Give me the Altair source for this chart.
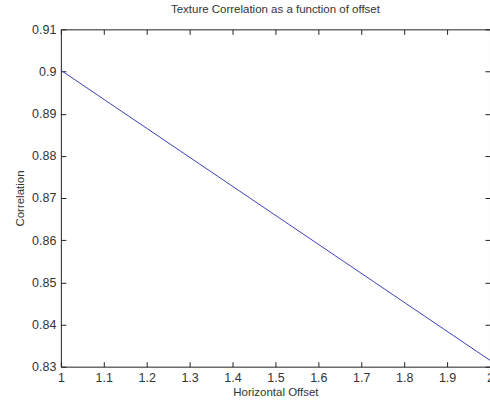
import altair as alt
import pandas as pd

offsets = [1.0, 2.0]
correlation = [0.9003, 0.8315]
x_ticks = [1.0, 1.1, 1.2, 1.3, 1.4, 1.5, 1.6, 1.7, 1.8, 1.9, 2.0]
y_ticks = [0.83, 0.84, 0.85, 0.86, 0.87, 0.88, 0.89, 0.90, 0.91]

df = pd.DataFrame({"offset": offsets, "corr": correlation})

FONT = "Liberation Sans"
TXT = "#333333"
TICK = 5

xs = alt.Scale(domain=[1, 2], nice=False, zero=False)
ys = alt.Scale(domain=[0.83, 0.91], nice=False, zero=False)

base = alt.Chart(df)

lab = dict(labelFont=FONT, labelFontSize=12.5, labelColor=TXT,
           titleFont=FONT, titleFontSize=11.5, titleColor=TXT, titleFontWeight="normal")

# main layer: labels + titles + line
main = base.mark_line(color="#3f3fb8", strokeWidth=1).encode(
    x=alt.X("offset:Q", scale=xs, title="Horizontal Offset",
            axis=alt.Axis(values=x_ticks, format="~g", ticks=False, tickSize=0,
                          domain=False, grid=False, labelPadding=5, titlePadding=2,
                          labelFlush=False, **lab)),
    y=alt.Y("corr:Q", scale=ys, title="Correlation",
            axis=alt.Axis(values=y_ticks, format="~g", ticks=False, tickSize=0,
                          domain=False, grid=False, labelPadding=5, titlePadding=6,
                          labelFlush=False, **lab)),
)

def tick_layer(xorient, yorient):
    return base.mark_line(opacity=0).encode(
        x=alt.X("offset:Q", scale=xs,
                axis=alt.Axis(orient=xorient, values=x_ticks, labels=False, title=None,
                              domain=False, grid=False, ticks=True, tickSize=TICK,
                              offset=-TICK, tickColor="#222222", tickWidth=1)),
        y=alt.Y("corr:Q", scale=ys,
                axis=alt.Axis(orient=yorient, values=y_ticks, labels=False, title=None,
                              domain=False, grid=False, ticks=True, tickSize=TICK,
                              offset=-TICK, tickColor="#222222", tickWidth=1)),
    )

t1 = tick_layer("bottom", "left")
t2 = tick_layer("top", "right")

chart = alt.layer(main, t1, t2).resolve_scale(x="independent", y="independent").resolve_axis(
    x="independent", y="independent"
).properties(
    width=430, height=338,
    title=alt.Title("Texture Correlation as a function of offset", fontSize=11.5,
                    font=FONT, fontWeight="normal", color=TXT, offset=8),
    autosize=alt.AutoSizeParams(type="none"),
    padding={"left": 61, "top": 29, "right": 0, "bottom": 36},
    background="white",
).configure_view(stroke="#222222", strokeWidth=1)

chart.save("out.html", embed_options={"renderer": "svg", "actions": False})
